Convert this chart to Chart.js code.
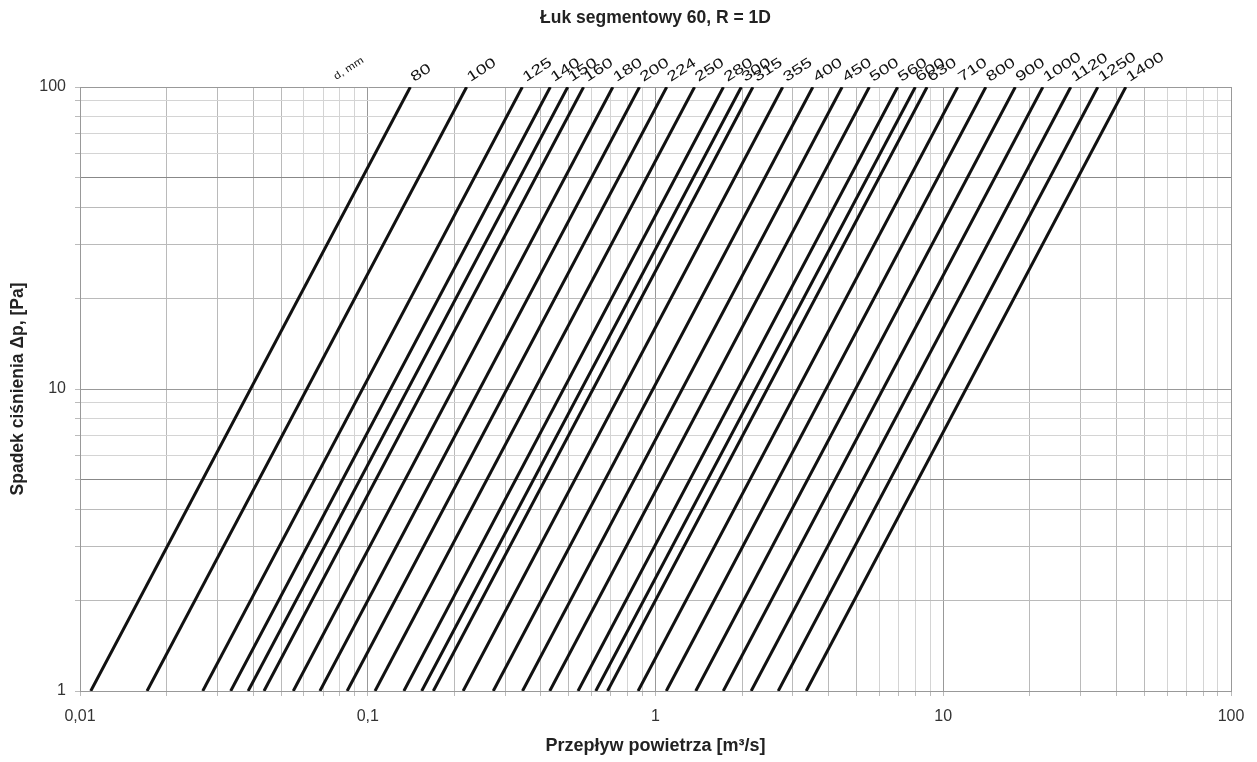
<!DOCTYPE html>
<html>
<head>
<meta charset="utf-8">
<script src="https://cdn.jsdelivr.net/npm/chart.js@4.4.1/dist/chart.umd.min.js"></script>
<style>
  html, body { margin: 0; padding: 0; background: #fff; }
  #wrap { width: 1257px; height: 762px; }
</style>
</head>
<body>
<div id="wrap"><canvas id="chart" width="1257" height="762"></canvas></div>
<script>
// Duct diameters, mm
const diameters = ['80', '100', '125', '140', '150', '160', '180', '200', '224', '250', '280', '300', '315', '355',
  '400', '450', '500', '560', '600', '630', '710', '800', '900', '1000', '1120', '1250', '1400'];

// Air flow [m3/s] giving a pressure drop of 1 Pa
const flowAt1Pa = [0.0109, 0.0171, 0.0267, 0.0334, 0.0384, 0.0436, 0.0551, 0.0682, 0.0848, 0.106, 0.1335, 0.154, 0.169, 0.2145,
  0.273, 0.345, 0.429, 0.538, 0.62, 0.681, 0.87, 1.09, 1.38, 1.72, 2.15, 2.67, 3.34];

// Air flow [m3/s] giving a pressure drop of 100 Pa
const flowAt100Pa = [0.1406, 0.2206, 0.3444, 0.4309, 0.4954, 0.5624, 0.7108, 0.8798, 1.094, 1.367, 1.722, 1.987, 2.18, 2.767,
  3.522, 4.451, 5.534, 6.94, 7.998, 8.785, 11.22, 14.06, 17.8, 22.19, 27.74, 34.44, 43.09];

// Pressure drop [Pa] at the two ends of each curve
const pressureEnds = [1, 100];

// Labelled axis ticks
const xMajorTicks = [0.01, 0.1, 1, 10, 100];
const xTickLabels = ['0,01', '0,1', '1', '10', '100'];
const yMajorTicks = [1, 10, 100];
const yTickLabels = ['1', '10', '100'];

const FONT = '"Liberation Sans", Arial, Helvetica, sans-serif';

// all 1..9 x 10^k gridline positions between the labelled decades
function decadeTicks(majors) {
  const out = [];
  for (let i = 0; i < majors.length - 1; i++) {
    for (let m = 1; m <= 9; m++) out.push({ value: Number((m * majors[i]).toPrecision(4)) });
  }
  out.push({ value: majors[majors.length - 1] });
  return out;
}

function mantissa(v) {
  const p = Math.pow(10, Math.floor(Math.log10(v) + 1e-9));
  return Math.round(v / p);
}

function labelFor(majors, labels, v) {
  const k = majors.findIndex(m => Math.abs(v / m - 1) < 1e-6);
  return k >= 0 ? labels[k] : '';
}

function gridColor(axis) {
  return ctx => {
    if (!ctx.tick) return '#bdbdbd';
    const m = mantissa(ctx.tick.value);
    if (m === 1) return '#999999';
    if (m === 5 && axis === 'y') return '#888888';
    if (m <= 5) return '#bababa';
    return '#d4d4d4';
  };
}

const datasets = diameters.map((d, i) => ({
  label: d,
  data: [
    { x: flowAt1Pa[i], y: pressureEnds[0] },
    { x: flowAt100Pa[i], y: pressureEnds[1] }
  ],
  borderColor: '#111',
  borderWidth: 3,
  pointRadius: 0,
  showLine: true,
  fill: false
}));

// diameter labels written at the upper end of each curve
const curveLabels = {
  id: 'curveLabels',
  afterDatasetsDraw(chart) {
    const { ctx, chartArea } = chart;
    const angle = -33 * Math.PI / 180;
    ctx.save();
    ctx.fillStyle = '#111';
    ctx.textBaseline = 'alphabetic';
    ctx.textAlign = 'left';
    chart.data.datasets.forEach((ds, i) => {
      const meta = chart.getDatasetMeta(i);
      const end = meta.data[meta.data.length - 1];
      ctx.save();
      ctx.translate(end.x + 4, chartArea.top - 5);
      ctx.rotate(angle);
      ctx.scale(1.35, 1);
      ctx.font = '14px ' + FONT;
      ctx.fillText(ds.label, 0, 0);
      ctx.restore();
    });
    const first = chart.getDatasetMeta(0).data[1];
    ctx.save();
    ctx.translate(first.x - 74, chartArea.top - 7);
    ctx.rotate(angle);
    ctx.scale(1.2, 1);
    ctx.font = '10px ' + FONT;
    ctx.fillText('d, mm', 0, 0);
    ctx.restore();
    ctx.restore();
  }
};

new Chart(document.getElementById('chart'), {
  type: 'scatter',
  data: { datasets },
  options: {
    responsive: false,
    animation: false,
    layout: { padding: { left: 0, right: 26, top: 0, bottom: 0 } },
    plugins: {
      legend: { display: false },
      tooltip: { enabled: false },
      title: {
        display: true,
        fullSize: false,
        text: 'Łuk segmentowy 60, R = 1D',
        color: '#222',
        font: { family: FONT, size: 17.5, weight: 'bold', lineHeight: 1.2 },
        padding: { top: 8, bottom: 58 }
      }
    },
    scales: {
      x: {
        type: 'logarithmic',
        min: xMajorTicks[0],
        max: xMajorTicks[xMajorTicks.length - 1],
        afterBuildTicks: s => { s.ticks = decadeTicks(xMajorTicks); },
        afterFit: s => { s.height = 71; },
        ticks: {
          autoSkip: false,
          maxRotation: 0,
          padding: 11,
          color: '#333',
          font: { family: FONT, size: 16 },
          callback: v => labelFor(xMajorTicks, xTickLabels, v)
        },
        grid: { color: gridColor('x'), tickColor: '#bbb', tickLength: 5, lineWidth: 1 },
        border: { color: '#999999' },
        title: {
          display: true,
          text: 'Przepływ powietrza [m³/s]',
          color: '#222',
          font: { family: FONT, size: 18, weight: 'bold', lineHeight: 1.2 },
          padding: { top: 0, bottom: 5 }
        }
      },
      y: {
        type: 'logarithmic',
        min: yMajorTicks[0],
        max: yMajorTicks[yMajorTicks.length - 1],
        afterBuildTicks: s => { s.ticks = decadeTicks(yMajorTicks); },
        afterFit: s => { s.width = 80; },
        ticks: {
          autoSkip: false,
          padding: 9,
          color: '#333',
          font: { family: FONT, size: 16 },
          callback: v => labelFor(yMajorTicks, yTickLabels, v)
        },
        grid: { color: gridColor('y'), tickColor: '#bbb', tickLength: 5, lineWidth: 1 },
        border: { color: '#999999' },
        title: {
          display: true,
          text: 'Spadek ciśnienia Δp, [Pa]',
          color: '#222',
          font: { family: FONT, size: 17.5, weight: 'bold', lineHeight: 1.2 },
          padding: { top: 8, bottom: 0 }
        }
      }
    }
  },
  plugins: [curveLabels]
});
</script>
</body>
</html>
